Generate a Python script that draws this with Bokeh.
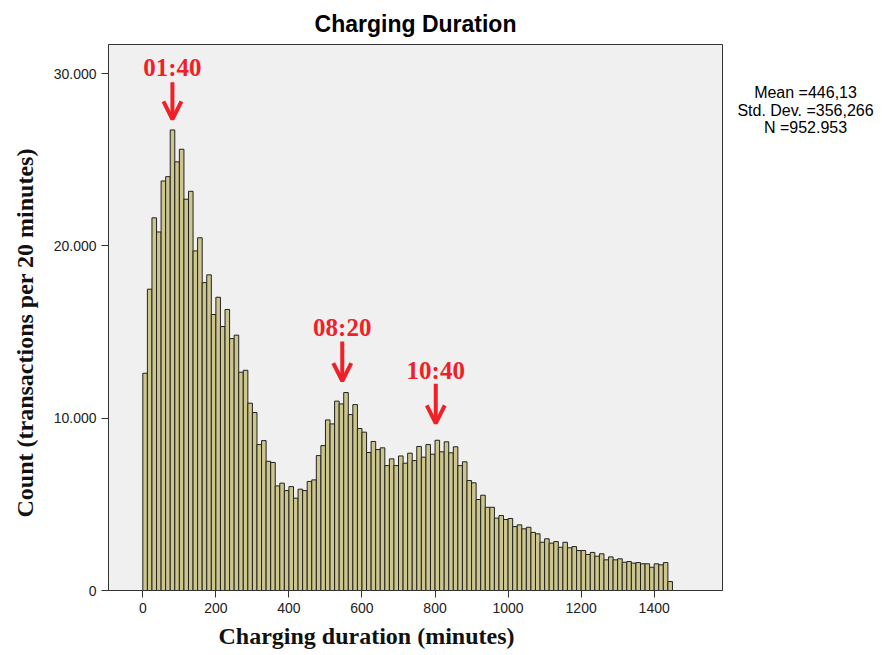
import numpy as np
from bokeh.plotting import figure
from bokeh.layouts import row
from bokeh.models import Range1d, FixedTicker, Label, Arrow, OpenHead, ColumnDataSource, Title
from bokeh.embed import file_html
from bokeh.resources import INLINE

# ---- data ----
bin_width = 12.5  # minutes per bar
counts = [12610, 17490, 21630, 20810, 23770, 24020, 26730, 24880, 25610, 22710,
          23170, 19710, 20470, 17870, 18320, 16020, 17020, 15320, 16310, 14620,
          14820, 12670, 12780, 10870, 10330, 8470, 8700, 7500, 7430, 6070,
          6230, 5800, 6030, 5360, 5880, 5800, 6330, 6420, 7830, 8410,
          9900, 9670, 10990, 10830, 11490, 10210, 10790, 9400, 9190, 8010,
          8650, 8180, 8280, 7250, 7640, 7250, 7810, 7390, 7970, 7540,
          8360, 7740, 8470, 7910, 8720, 8050, 8630, 7990, 8340, 7250,
          7470, 6380, 6250, 5280, 5530, 4830, 4830, 4200, 4350, 4120,
          4180, 3710, 3810, 3580, 3670, 3370, 3290, 2800, 3000, 2750,
          2840, 2510, 2800, 2480, 2550, 2320, 2320, 2090, 2210, 1990,
          2130, 1780, 1950, 1780, 1840, 1640, 1680, 1590, 1620, 1550,
          1550, 1350, 1550, 1490, 1620, 520]
x_ticks = [0, 200, 400, 600, 800, 1000, 1200, 1400]
y_ticks = [0, 10000, 20000, 30000]
y_tick_labels = ["0", "10.000", "20.000", "30.000"]

peak_labels = ["01:40", "08:20", "10:40"]
peak_x = [81, 546, 802]
peak_label_y = [30350, 15260, 12770]
peak_arrow_start = [29500, 14450, 12000]
peak_arrow_end = [27350, 12150, 9700]

stats_lines = ["Mean =446,13", "Std. Dev. =356,266", "N =952.953"]

title_text = "Charging Duration"
x_title = "Charging duration (minutes)"
y_title = "Count (transactions per 20 minutes)"

# ---- main figure ----
H = 655
p = figure(width=727, height=H, output_backend="svg", toolbar_location=None,
           x_range=Range1d(-94, 1587), y_range=Range1d(0, 31690),
           min_border_left=108, min_border_right=5,
           min_border_top=44, min_border_bottom=65)
p.title.text = title_text
p.title.align = "center"
p.title.vertical_align = "top"
p.title.text_font = "Liberation Sans"
p.title.text_font_size = "23px"
p.title.text_font_style = "bold"
p.title.text_color = "#000000"
p.title.standoff = 12

p.background_fill_color = "#F0F0F0"
p.border_fill_color = "white"
p.outline_line_color = "#333333"
p.outline_line_width = 1
p.xgrid.visible = False
p.ygrid.visible = False

edges = np.arange(len(counts) + 1) * bin_width
src = ColumnDataSource(dict(left=edges[:-1], right=edges[1:], top=counts))
p.quad(left="left", right="right", top="top", bottom=0, source=src,
       fill_color="#CCC68C", line_color="#222222", line_width=1)

for ax in (p.xaxis[0], p.yaxis[0]):
    ax.major_label_text_font = "Liberation Sans"
    ax.major_label_text_font_size = "14px"
    ax.major_label_text_color = "#222222"
    ax.axis_line_color = "#333333"
    ax.major_tick_line_color = "#333333"
    ax.major_tick_out = 7
    ax.major_tick_in = 0
    ax.minor_tick_out = 0
    ax.minor_tick_in = 0

p.xaxis.ticker = FixedTicker(ticks=x_ticks)
p.yaxis.ticker = FixedTicker(ticks=y_ticks)
p.yaxis.major_label_overrides = {t: l for t, l in zip(y_ticks, y_tick_labels)}

# axis titles
xt = Title(text=x_title, align="left", offset=110, text_font="Liberation Serif",
           text_font_style="bold", text_font_size="24px", text_color="#111111")
p.add_layout(xt, "below")
yt = Title(text=y_title, align="left", offset=73, text_font="Liberation Serif",
           text_font_style="bold", text_font_size="24px", text_color="#111111",
           standoff=22, vertical_align="top")
p.add_layout(yt, "left")

# annotations (peaks)
red = "#F02028"
for lab, x, ly, ys, ye in zip(peak_labels, peak_x, peak_label_y, peak_arrow_start, peak_arrow_end):
    p.add_layout(Label(x=x, y=ly, text=lab, text_align="center", text_baseline="middle",
                       text_font="Liberation Serif", text_font_style="bold",
                       text_font_size="25px", text_color=red))
    p.add_layout(Arrow(x_start=x, y_start=ys, x_end=x, y_end=ye,
                       line_color=red, line_width=4,
                       end=OpenHead(size=18, line_color=red, line_width=4)))

# ---- stats panel (frame aligned with main frame: y in screen pixels) ----
p2 = figure(width=155, height=H, output_backend="svg", toolbar_location=None,
            title_location=None,
            x_range=Range1d(727, 882), y_range=Range1d(590, 44),
            x_axis_type=None, y_axis_type=None,
            min_border_left=0, min_border_right=0, min_border_top=0, min_border_bottom=0)
p2.outline_line_color = None
p2.background_fill_color = "white"
p2.border_fill_color = "white"
p2.grid.visible = False
p2.text(x=[805, 805, 805], y=[92, 110, 127], text=stats_lines,
        text_align="center", text_baseline="middle",
        text_font={"value": "Liberation Sans"}, text_font_size="16px", text_color="#000000")

layout = row(p, p2, spacing=0)
open("out.html", "w").write(file_html(layout, INLINE))
